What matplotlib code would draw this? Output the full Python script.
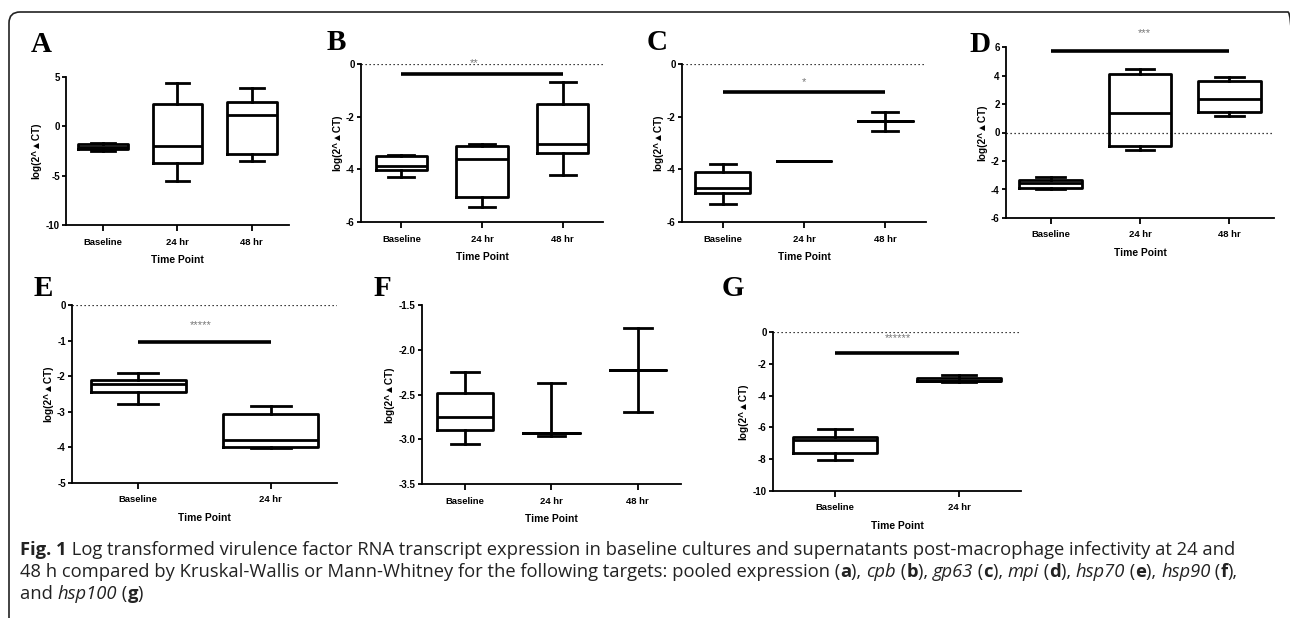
import matplotlib
matplotlib.use("Agg")
import matplotlib.pyplot as plt
from matplotlib.patches import FancyBboxPatch
from matplotlib.transforms import IdentityTransform

plt.rcParams['font.family'] = ['Liberation Sans', 'DejaVu Sans']
plt.rcParams['axes.unicode_minus'] = False

W, H = 1290, 618

# --- data: (low whisker, Q1, median, Q3, high whisker) ---
groups3 = ["Baseline", "24 hr", "48 hr"]
groups2 = ["Baseline", "24 hr"]

a_stats = [(-2.55, -2.3, -2.1, -1.8, -1.7), (-5.5, -3.75, -2.0, 2.25, 4.35), (-3.5, -2.8, 1.1, 2.5, 3.85)]
b_stats = [(-4.29, -4.04, -3.89, -3.5, -3.45), (-5.43, -5.05, -3.6, -3.1, -3.03), (-4.2, -3.38, -3.03, -1.52, -0.68)]
c_stats = [(-5.3, -4.88, -4.72, -4.09, -3.8), (-3.7, -3.7, -3.7, -3.7, -3.7), (-2.53, -2.17, -2.17, -2.17, -1.83)]
d_stats = [(-3.99, -3.9, -3.54, -3.3, -3.14), (-1.23, -0.98, 1.38, 4.1, 4.48), (1.19, 1.47, 2.38, 3.6, 3.92)]
e_stats = [(-2.78, -2.45, -2.22, -2.1, -1.9), (-4.03, -4.0, -3.78, -3.05, -2.85)]
f_stats = [(-3.05, -2.9, -2.75, -2.48, -2.25), (-2.96, -2.93, -2.93, -2.93, -2.37), (-2.69, -2.23, -2.23, -2.23, -1.76)]
g_stats = [(-8.02, -7.6, -6.8, -6.59, -6.13), (-3.15, -3.1, -3.07, -2.9, -2.68)]

a_ticks = [-10, -5, 0, 5]
b_ticks = [-6, -4, -2, 0]
c_ticks = [-6, -4, -2, 0]
d_ticks = [-6, -4, -2, 0, 2, 4, 6]
e_ticks = [-5, -4, -3, -2, -1, 0]
f_ticks = [-3.5, -3.0, -2.5, -2.0, -1.5]
g_ticks = [-10, -8, -6, -4, -2, 0]

# significance bars: (y of bar, label, label x, label y)
b_sig = (-0.39, "**", 0.9, 0.05)
c_sig = (-1.05, "*", 1.0, -0.7)
d_sig = (5.72, "***", 1.05, 6.98)
e_sig = (-1.04, "*****", 0.47, -0.55)
g_sig = (-1.33, "******", 0.51, -0.38)

caption_lines = [
    [("Fig. 1", "bold", "normal"),
     (" Log transformed virulence factor RNA transcript expression in baseline cultures and supernatants "
      "post-macrophage infectivity at 24 and", "normal", "normal")],
    [("48 h compared by Kruskal-Wallis or Mann-Whitney for the following targets: pooled expression (", "normal", "normal"),
     ("a", "bold", "normal"), ("), ", "normal", "normal"),
     ("cpb", "normal", "italic"), (" (", "normal", "normal"), ("b", "bold", "normal"), ("), ", "normal", "normal"),
     ("gp63", "normal", "italic"), (" (", "normal", "normal"), ("c", "bold", "normal"), ("), ", "normal", "normal"),
     ("mpi", "normal", "italic"), (" (", "normal", "normal"), ("d", "bold", "normal"), ("), ", "normal", "normal"),
     ("hsp70", "normal", "italic"), (" (", "normal", "normal"), ("e", "bold", "normal"), ("), ", "normal", "normal"),
     ("hsp90", "normal", "italic"), (" (", "normal", "normal"), ("f", "bold", "normal"), ("),", "normal", "normal")],
    [("and ", "normal", "normal"), ("hsp100", "normal", "italic"), (" (", "normal", "normal"),
     ("g", "bold", "normal"), (")", "normal", "normal")],
]


def px_rect(x0, x1, ytop, ybot):
    return [x0 / W, 1 - ybot / H, (x1 - x0) / W, (ybot - ytop) / H]


def draw_panel(fig, rect, stats, groups, ticks, ylim, letter, letter_xy,
               box_w=0.67, cap_w=0.32, zero_line=True, sig=None, fmt="{:g}"):
    ax = fig.add_axes(px_rect(*rect))
    bxp_stats = []
    for (lo, q1, med, q3, hi), name in zip(stats, groups):
        bxp_stats.append(dict(whislo=lo, q1=q1, med=med, q3=q3, whishi=hi, label=name, fliers=[]))
    pos = list(range(len(groups)))
    lw = 2.0
    ax.bxp(bxp_stats, positions=pos, widths=box_w, capwidths=cap_w, showfliers=False,
           boxprops=dict(color='black', linewidth=lw),
           medianprops=dict(color='black', linewidth=lw, solid_capstyle='butt'),
           whiskerprops=dict(color='black', linewidth=lw),
           capprops=dict(color='black', linewidth=lw))
    ax.set_xlim(-0.5, len(groups) - 0.5)
    ax.set_ylim(*ylim)
    ax.set_yticks(ticks)
    ax.set_yticklabels([fmt.format(t) for t in ticks])
    ax.set_xticks(pos)
    ax.set_xticklabels(groups)
    for s in ('top', 'right'):
        ax.spines[s].set_visible(False)
    for s in ('left', 'bottom'):
        ax.spines[s].set_linewidth(1.3)
    ax.tick_params(axis='y', length=3, width=1.3, labelsize=7, pad=1.5)
    ax.tick_params(axis='x', length=4, width=1.3, labelsize=6.8, pad=5)
    for lab in ax.get_xticklabels() + ax.get_yticklabels():
        lab.set_fontweight('bold')
    ax.set_ylabel("log(2^\u25b2CT)", fontsize=7.2, fontweight='bold', labelpad=3)
    ax.set_xlabel("Time Point", fontsize=7.4, fontweight='bold', labelpad=6)
    ax.patch.set_visible(False)
    if zero_line:
        ax.axhline(0, color='black', lw=0.9, ls=(0, (1, 2.2)), zorder=0)
    if sig is not None:
        y, label, tx, ty = sig
        ax.plot([0, len(groups) - 1], [y, y], color='black', lw=2.6, solid_capstyle='butt', clip_on=False)
        ax.text(tx, ty, label, ha='center', va='center', fontsize=8, color='#777777', clip_on=False)
    fig.text(letter_xy[0] / W, 1 - letter_xy[1] / H, letter, family=['Liberation Serif', 'DejaVu Serif'],
             fontweight='bold', fontsize=21, ha='center', va='center')
    return ax


fig = plt.figure(figsize=(W / 100, H / 100), dpi=100)

draw_panel(fig, (66, 289, 77, 225), a_stats, groups3, a_ticks, (-10, 5), "A", (41, 45), zero_line=False)
draw_panel(fig, (361, 603, 64, 222), b_stats, groups3, b_ticks, (-6, 0), "B", (336, 43), box_w=0.64, sig=b_sig)
draw_panel(fig, (682, 926, 64, 222), c_stats, groups3, c_ticks, (-6, 0), "C", (657, 43), sig=c_sig)
draw_panel(fig, (1006, 1274, 47, 218), d_stats, groups3, d_ticks, (-6, 6), "D", (980, 45), box_w=0.7, sig=d_sig)
draw_panel(fig, (72, 337, 305, 483), e_stats, groups2, e_ticks, (-5, 0), "E", (43, 289), box_w=0.72,
           cap_w=0.3, sig=e_sig)
draw_panel(fig, (422, 681, 305, 484), f_stats, groups3, f_ticks, (-3.5, -1.5), "F", (382, 289),
           box_w=0.65, zero_line=False, fmt="{:.1f}")
draw_panel(fig, (773, 1021, 332, 491), g_stats, groups2, g_ticks, (-10, 0), "G", (733, 289), box_w=0.68,
           cap_w=0.27, sig=g_sig)

# caption, written piece by piece so the styles can change inside a line
cap_font = ['Open Sans', 'DejaVu Sans']
line_bottoms = [559, 581, 603]
for segs, yb in zip(caption_lines, line_bottoms):
    prev = None
    for txt, weight, style in segs:
        kw = dict(fontsize=13.25, family=cap_font, fontweight=weight, fontstyle=style,
                  color='#222222', va='bottom', ha='left')
        if prev is None:
            prev = fig.text(20 / W, 1 - yb / H, txt, **kw)
        else:
            prev = fig.add_artist(matplotlib.text.Annotation(txt, xy=(1, 0), xycoords=prev,
                                                             xytext=(0, 0), textcoords='offset points', **kw))

# rounded frame, open at the bottom and right edge of the picture
frame = FancyBboxPatch((9, -40), 1290, 646, boxstyle="round,pad=0,rounding_size=11",
                       transform=IdentityTransform(), fill=False, edgecolor='#222222', lw=1.2, clip_on=False)
fig.add_artist(frame)

fig.savefig("out.png", dpi=100)
